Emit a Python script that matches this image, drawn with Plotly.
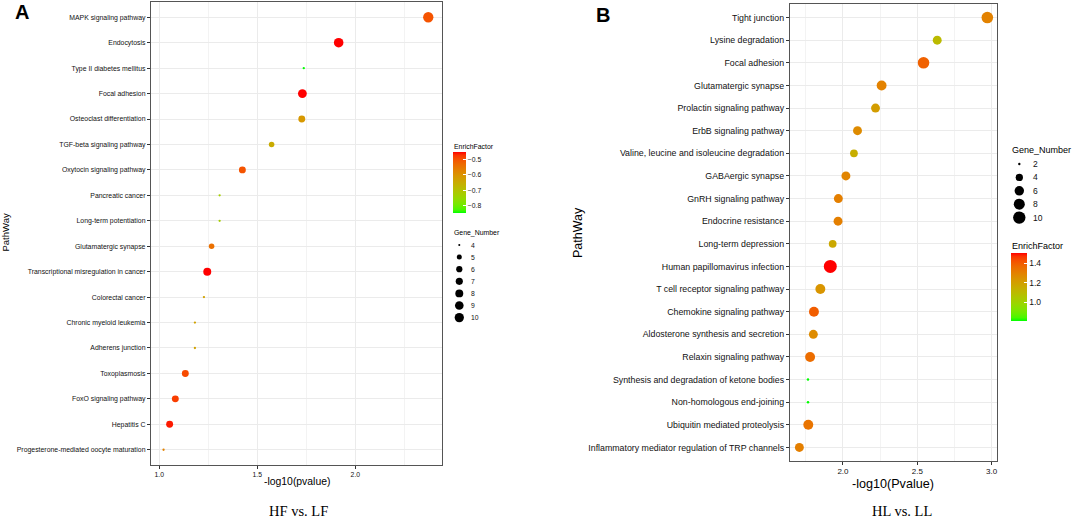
import numpy as np
import plotly.graph_objects as go

W, H = 1072, 520

# ---------------- data: panel A (HF vs. LF) ----------------
a_pathways = ["MAPK signaling pathway", "Endocytosis", "Type II diabetes mellitus",
              "Focal adhesion", "Osteoclast differentiation", "TGF-beta signaling pathway",
              "Oxytocin signaling pathway", "Pancreatic cancer", "Long-term potentiation",
              "Glutamatergic synapse", "Transcriptional misregulation in cancer",
              "Colorectal cancer", "Chronic myeloid leukemia", "Adherens junction",
              "Toxoplasmosis", "FoxO signaling pathway", "Hepatitis C",
              "Progesterone-mediated oocyte maturation"]
a_logp = [2.372, 1.915, 1.737, 1.730, 1.727, 1.573, 1.424, 1.308, 1.308, 1.267,
          1.245, 1.228, 1.182, 1.182, 1.133, 1.082, 1.053, 1.022]
a_genes = [10, 9, 4, 8, 6, 5, 6, 4, 4, 5, 7, 4, 4, 4, 6, 6, 6, 4]
a_enrich = [-0.50, -0.45, -0.85, -0.45, -0.61, -0.65, -0.50, -0.73, -0.73, -0.54,
            -0.45, -0.63, -0.63, -0.63, -0.49, -0.48, -0.46, -0.57]
a_gene_legend = [4, 5, 6, 7, 8, 9, 10]
a_cbar_ticks = [-0.8, -0.7, -0.6, -0.5]

# ---------------- data: panel B (HL vs. LL) ----------------
b_pathways = ["Tight junction", "Lysine degradation", "Focal adhesion", "Glutamatergic synapse",
              "Prolactin signaling pathway", "ErbB signaling pathway",
              "Valine, leucine and isoleucine degradation", "GABAergic synapse",
              "GnRH signaling pathway", "Endocrine resistance", "Long-term depression",
              "Human papillomavirus infection", "T cell receptor signaling pathway",
              "Chemokine signaling pathway", "Aldosterone synthesis and secretion",
              "Relaxin signaling pathway", "Synthesis and degradation of ketone bodies",
              "Non-homologous end-joining", "Ubiquitin mediated proteolysis",
              "Inflammatory mediator regulation of TRP channels"]
b_logp = [2.971, 2.634, 2.542, 2.260, 2.219, 2.098, 2.074, 2.020, 1.969, 1.967,
          1.931, 1.915, 1.848, 1.805, 1.801, 1.779, 1.765, 1.765, 1.767, 1.707]
b_genes = [8, 5, 8, 6, 5, 5, 4, 5, 5, 5, 4, 10, 6, 6, 5, 6, 2, 2, 6, 5]
b_enrich = [1.30, 1.10, 1.39, 1.30, 1.21, 1.27, 1.15, 1.29, 1.31, 1.31,
            1.17, 1.51, 1.24, 1.40, 1.27, 1.36, 0.81, 0.81, 1.34, 1.31]
b_gene_legend = [2, 4, 6, 8, 10]
b_cbar_ticks = [1.0, 1.2, 1.4]


# ---------------- helpers ----------------
def hex_rgb(h):
    h = h.lstrip("#")
    return np.array([int(h[i:i + 2], 16) for i in (0, 2, 4)], dtype=float)


M = np.array([[0.4124564, 0.3575761, 0.1804375],
              [0.2126729, 0.7151522, 0.0721750],
              [0.0193339, 0.1191920, 0.9503041]])
WHITE = np.array([0.95047, 1.0, 1.08883])


def rgb_to_lab(rgb):
    c = rgb / 255.0
    lin = np.where(c <= 0.04045, c / 12.92, ((c + 0.055) / 1.055) ** 2.4)
    xyz = M @ lin / WHITE
    f = np.where(xyz > 0.008856, np.cbrt(xyz), 7.787 * xyz + 16 / 116)
    return np.array([116 * f[1] - 16, 500 * (f[0] - f[1]), 200 * (f[1] - f[2])])


def lab_to_rgb(lab):
    L, a, b = lab
    fy = (L + 16) / 116
    fx = fy + a / 500
    fz = fy - b / 200
    f = np.array([fx, fy, fz])
    xyz = np.where(f ** 3 > 0.008856, f ** 3, (f - 16 / 116) / 7.787) * WHITE
    lin = np.linalg.solve(M, xyz)
    lin = np.clip(lin, 0, 1)
    c = np.where(lin <= 0.0031308, 12.92 * lin, 1.055 * lin ** (1 / 2.4) - 0.055)
    c = np.clip(np.round(c * 255), 0, 255).astype(int)
    return "rgb(%d,%d,%d)" % tuple(c)


def lab_scale(low, high, n=21):
    l0, l1 = rgb_to_lab(hex_rgb(low)), rgb_to_lab(hex_rgb(high))
    return [[i / (n - 1), lab_to_rgb(l0 + (l1 - l0) * i / (n - 1))] for i in range(n)]


SCALE = lab_scale("#00FF00", "#FF0000")


def area_size(v, vmin, vmax, dmin, dmax):
    t = (np.asarray(v, dtype=float) - vmin) / (vmax - vmin)
    return dmin + np.sqrt(np.clip(t, 0, 1)) * (dmax - dmin)


def px(x):
    return x / W


def py(y):
    return 1 - y / H


A_SZ = (4, 10, 2.3, 10.3)
B_SZ = (2, 10, 2.5, 13.0)

FONT = "Liberation Sans, Arial, sans-serif"
SERIF = "Liberation Serif, Times New Roman, serif"
TXT = "#111111"

fig = go.Figure()

fig.add_trace(go.Scatter(
    x=a_logp, y=a_pathways, mode="markers", showlegend=False,
    marker=dict(size=area_size(a_genes, *A_SZ), color=a_enrich, coloraxis="coloraxis",
                line=dict(width=0), opacity=1),
    xaxis="x", yaxis="y"))

fig.add_trace(go.Scatter(
    x=b_logp, y=b_pathways, mode="markers", showlegend=False,
    marker=dict(size=area_size(b_genes, *B_SZ), color=b_enrich, coloraxis="coloraxis2",
                line=dict(width=0), opacity=1),
    xaxis="x2", yaxis="y2"))

# size legends drawn on an invisible pixel-space overlay axis
a_leg_x, a_leg_y0, a_leg_dy = 459.3, 245, 12.1
b_leg_x, b_leg_y0, b_leg_dy = 1019.3, 164, 13.4
a_leg_y = [a_leg_y0 + i * a_leg_dy for i in range(len(a_gene_legend))]
b_leg_y = [b_leg_y0 + i * b_leg_dy for i in range(len(b_gene_legend))]
fig.add_trace(go.Scatter(
    x=[a_leg_x] * len(a_gene_legend), y=a_leg_y, mode="markers", showlegend=False,
    marker=dict(size=area_size(a_gene_legend, *A_SZ) * 0.9, color="#000000",
                line=dict(width=0), opacity=1),
    xaxis="x3", yaxis="y3", hoverinfo="skip"))
fig.add_trace(go.Scatter(
    x=[b_leg_x] * len(b_gene_legend), y=b_leg_y, mode="markers", showlegend=False,
    marker=dict(size=area_size(b_gene_legend, *B_SZ) * 0.95, color="#000000",
                line=dict(width=0), opacity=1),
    xaxis="x3", yaxis="y3", hoverinfo="skip"))

annotations = []
for g, yy in zip(a_gene_legend, a_leg_y):
    annotations.append(dict(x=px(469), y=py(yy), text=str(g), showarrow=False,
                            xref="paper", yref="paper",
                            xanchor="left", yanchor="middle", font=dict(size=6.8, color=TXT)))
for g, yy in zip(b_gene_legend, b_leg_y):
    annotations.append(dict(x=px(1031), y=py(yy), text=str(g), showarrow=False,
                            xref="paper", yref="paper",
                            xanchor="left", yanchor="middle", font=dict(size=8.5, color=TXT)))

texts = [
    (px(452), py(146), "EnrichFactor", 6.9, "left", FONT, 0),
    (px(452), py(233), "Gene_Number", 6.9, "left", FONT, 0),
    (px(1010), py(150), "Gene_Number", 9, "left", FONT, 0),
    (px(1010), py(246), "EnrichFactor", 9, "left", FONT, 0),
    (px(296.7), py(481.5), "-log10(pvalue)", 10.4, "center", FONT, 0),
    (px(893), py(483.5), "-log10(Pvalue)", 12.6, "center", FONT, 0),
    (px(5.5), py(233), "PathWay", 9.5, "center", FONT, -90),
    (px(578), py(233), "PathWay", 12.5, "center", FONT, -90),
    (px(22), py(12), "<b>A</b>", 20, "center", FONT, 0),
    (px(603), py(15), "<b>B</b>", 20, "center", FONT, 0),
    (px(298.5), py(511), "HF vs. LF", 14.5, "center", SERIF, 0),
    (px(901.5), py(511), "HL vs. LL", 14.5, "center", SERIF, 0),
]
for x, y, t, s, anc, fam, ang in texts:
    annotations.append(dict(x=x, y=y, text=t, showarrow=False, xanchor=anc, yanchor="middle",
                            xref="paper", yref="paper",
                            textangle=ang, font=dict(size=s, family=fam, color="black")))

grid_major = "#EBEBEB"
grid_minor = "#F3F3F3"
border = "#555555"


def xaxis_cfg(domain, rng, tsize, anchor):
    return dict(domain=domain, range=rng, anchor=anchor, dtick=0.5, tick0=0, tickformat=".1f",
                showgrid=True, gridcolor=grid_major, gridwidth=1,
                minor=dict(dtick=0.25, tick0=0, showgrid=True, gridcolor=grid_minor, gridwidth=0.6,
                           ticks=""),
                showline=True, mirror=True, linecolor=border, linewidth=1.3,
                ticks="outside", ticklen=2.5, tickcolor="#333", tickwidth=1,
                tickfont=dict(size=tsize, color=TXT), zeroline=False)


def yaxis_cfg(domain, cats, tsize, anchor):
    return dict(domain=domain, type="category", categoryorder="array",
                categoryarray=list(reversed(cats)), range=[-0.6, len(cats) - 0.4],
                anchor=anchor, showgrid=True, gridcolor=grid_major, gridwidth=1,
                showline=True, mirror=True, linecolor=border, linewidth=1.3,
                ticks="outside", ticklen=3, tickcolor="#333", tickwidth=1,
                tickfont=dict(size=tsize, color=TXT), zeroline=False)


fig.update_layout(
    width=W, height=H, margin=dict(l=0, r=0, t=0, b=0),
    paper_bgcolor="white", plot_bgcolor="rgba(0,0,0,0)",
    font=dict(family=FONT, color="black"),
    xaxis=xaxis_cfg([px(151), px(442)], [0.958, 2.442], 6.8, "y"),
    yaxis=yaxis_cfg([py(465), py(2)], a_pathways, 6.9, "x"),
    xaxis2=xaxis_cfg([px(790), px(997)], [1.644, 3.036], 8.0, "y2"),
    yaxis2=yaxis_cfg([py(461), py(4)], b_pathways, 8.8, "x2"),
    xaxis3=dict(domain=[0, 1], range=[0, W], visible=False, anchor="y3", fixedrange=True),
    yaxis3=dict(domain=[0, 1], range=[H, 0], visible=False, anchor="x3", fixedrange=True),
    coloraxis=dict(colorscale=SCALE, colorbar=dict(
        x=px(453), xanchor="left", y=py(152), yanchor="top", len=61 / H, lenmode="fraction",
        thickness=13, xpad=0, ypad=0, outlinewidth=0, tickvals=a_cbar_ticks,
        ticks="inside", ticklen=3, tickcolor="white", tickfont=dict(size=6.8, color=TXT))),
    coloraxis2=dict(colorscale=SCALE, colorbar=dict(
        x=px(1011), xanchor="left", y=py(252.7), yanchor="top", len=68 / H, lenmode="fraction",
        thickness=16, xpad=0, ypad=0, outlinewidth=0, tickvals=b_cbar_ticks, tickformat=".1f",
        ticks="inside", ticklen=3, tickcolor="white", tickfont=dict(size=8.5, color=TXT))),
    annotations=annotations,
)

fig.write_html("out.html", config={"displayModeBar": False},
               post_script="document.body.style.margin='0';")
